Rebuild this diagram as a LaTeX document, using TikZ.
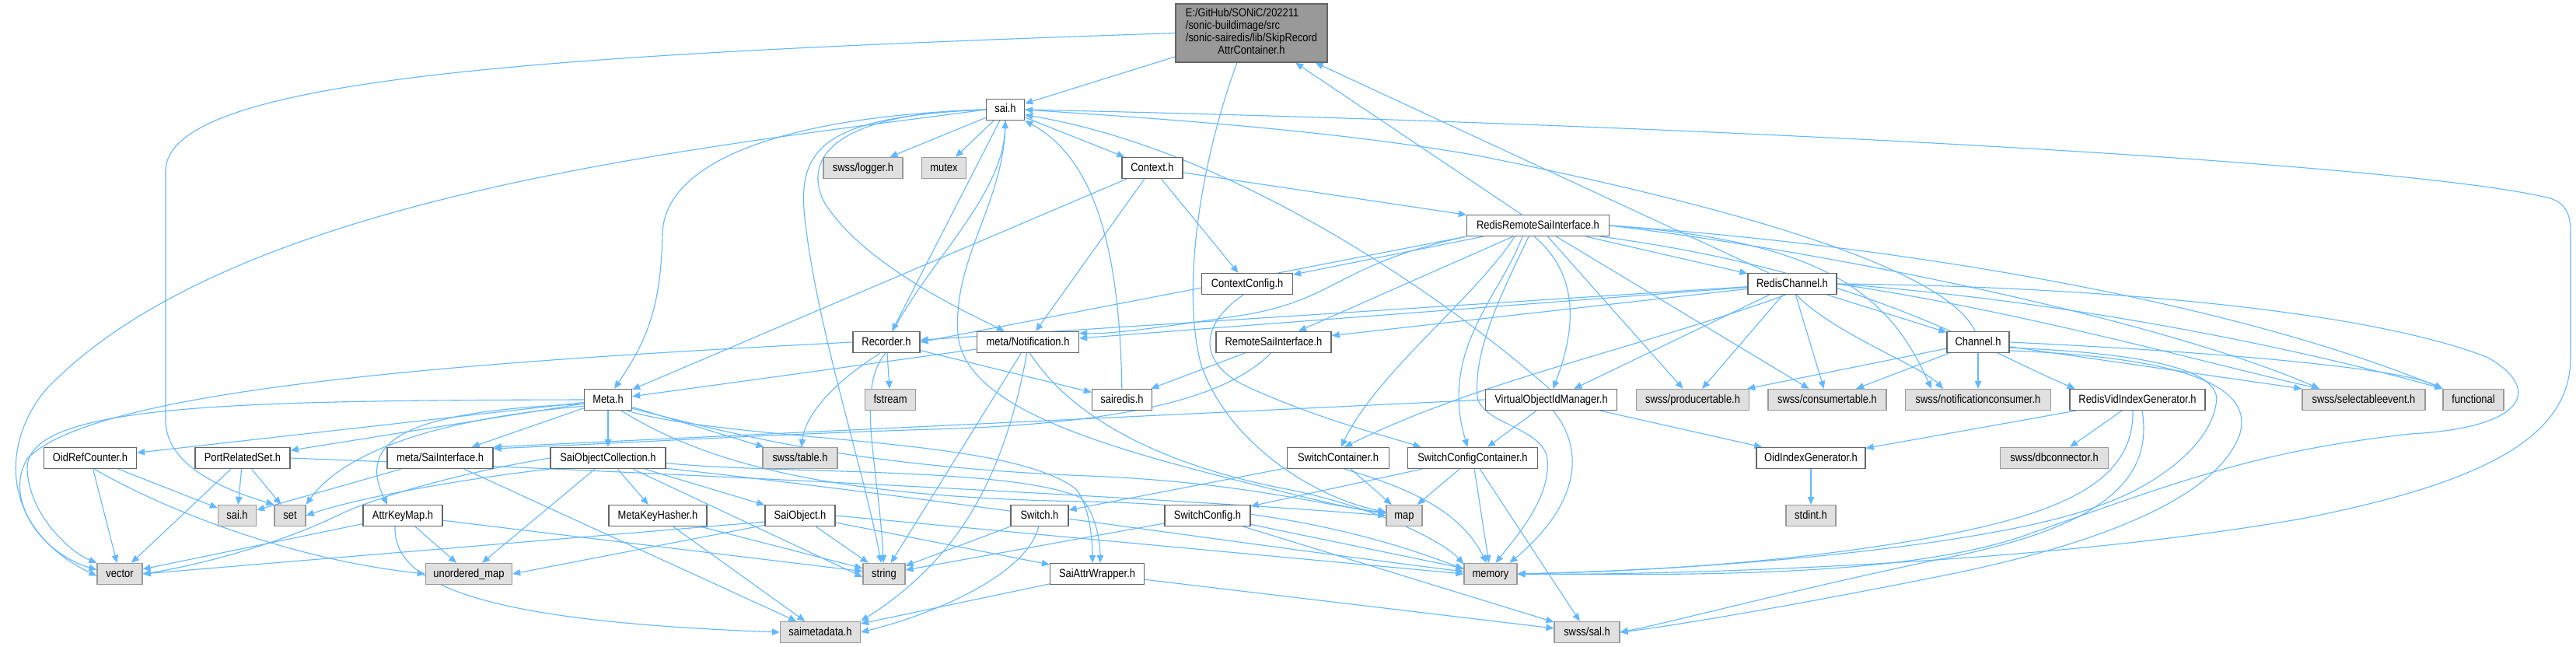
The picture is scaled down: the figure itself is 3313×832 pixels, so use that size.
\documentclass[tikz,border=0pt]{standalone}
\usepackage{fontspec}
\setmainfont{Liberation Sans}[FakeStretch=0.86]
\usetikzlibrary{arrows.meta}
\pgfdeclarelayer{bg}
\pgfsetlayers{bg,main}
\definecolor{edgec}{RGB}{99,184,255}
\definecolor{bordw}{RGB}{102,102,102}
\definecolor{bordg}{RGB}{153,153,153}
\definecolor{fillg}{RGB}{224,224,224}
\definecolor{fillr}{RGB}{153,153,153}
\newcommand\dgfont{\fontsize{15}{16}\selectfont}
\tikzset{
  nw/.style={draw=bordw, fill=white, line width=1.3pt, minimum height=27pt, inner sep=0pt, text height=11pt, text depth=3pt, font=\dgfont},
  ng/.style={draw=bordg, fill=fillg, line width=1.3pt, minimum height=27pt, inner sep=0pt, text height=11pt, text depth=3pt, font=\dgfont},
  nroot/.style={draw=bordw, fill=fillr, line width=1.3pt, minimum height=75pt, minimum width=195pt, inner sep=0pt, font=\dgfont},
  ed/.style={draw=edgec, line width=1.1pt, -{Triangle[length=10pt,width=8.5pt]}}
}
\begin{document}
\begin{tikzpicture}[x=1pt,y=-1pt]
\useasboundingbox (0,0) rectangle (3313,832);
\begin{pgfonlayer}{bg}
\fill[white] (0,0) rectangle (3313,832);
\end{pgfonlayer}
% nodes
\node[nroot] (root) at (1609.5,42.5) {\begin{tabular}{@{}l@{}}E:/GitHub/SONiC/202211\\/sonic-buildimage/src\\/sonic-sairedis/lib/SkipRecord\\\multicolumn{1}{@{}c@{}}{AttrContainer.h}\end{tabular}};
\node[nw,minimum width=49] (sai) at (1293,141) {sai.h};
\node[ng,minimum width=102] (logger) at (1110,216) {swss/logger.h};
\node[ng,minimum width=57] (mutex) at (1214,216) {mutex};
\node[nw,minimum width=78] (context) at (1482,216) {Context.h};
\node[nw,minimum width=117] (contextcfg) at (1604,365) {ContextConfig.h};
\node[nw,minimum width=183] (rrsi) at (1978,290) {RedisRemoteSaiInterface.h};
\node[nw,minimum width=114] (rch) at (2305,365) {RedisChannel.h};
\node[nw,minimum width=86] (recorder) at (1140,440) {Recorder.h};
\node[nw,minimum width=131] (notif) at (1322,440) {meta/Notification.h};
\node[nw,minimum width=148] (rsi) at (1638,440) {RemoteSaiInterface.h};
\node[nw,minimum width=80] (chan) at (2544,440) {Channel.h};
\node[nw,minimum width=61] (meta) at (782,514) {Meta.h};
\node[ng,minimum width=65] (fstream) at (1145,514) {fstream};
\node[nw,minimum width=77] (sairedis) at (1443,514) {sairedis.h};
\node[nw,minimum width=169] (vom) at (1995,514) {VirtualObjectIdManager.h};
\node[ng,minimum width=145] (prod) at (2177,514) {swss/producertable.h};
\node[ng,minimum width=152] (cons) at (2350,514) {swss/consumertable.h};
\node[ng,minimum width=187] (notifcons) at (2544,514) {swss/notificationconsumer.h};
\node[nw,minimum width=174] (rvig) at (2749,514) {RedisVidIndexGenerator.h};
\node[ng,minimum width=158] (selev) at (3040,514) {swss/selectableevent.h};
\node[ng,minimum width=78] (functional) at (3181,514) {functional};
\node[nw,minimum width=119] (oidref) at (116,589) {OidRefCounter.h};
\node[nw,minimum width=122] (portrel) at (312,589) {PortRelatedSet.h};
\node[nw,minimum width=136] (metasaii) at (566,589) {meta/SaiInterface.h};
\node[nw,minimum width=148] (soc) at (782,589) {SaiObjectCollection.h};
\node[ng,minimum width=96] (table) at (1029,589) {swss/table.h};
\node[nw,minimum width=131] (swcont) at (1721,589) {SwitchContainer.h};
\node[nw,minimum width=167] (swcfgcont) at (1894,589) {SwitchConfigContainer.h};
\node[nw,minimum width=140] (oidig) at (2329,589) {OidIndexGenerator.h};
\node[ng,minimum width=139] (dbconn) at (2642,589) {swss/dbconnector.h};
\node[ng,minimum width=49] (saih) at (305,663) {sai.h};
\node[ng,minimum width=40] (set) at (373,663) {set};
\node[nw,minimum width=102] (akm) at (518,663) {AttrKeyMap.h};
\node[nw,minimum width=126] (mkh) at (846,663) {MetaKeyHasher.h};
\node[nw,minimum width=90] (saiobj) at (1029,663) {SaiObject.h};
\node[nw,minimum width=74] (switch) at (1337,663) {Switch.h};
\node[nw,minimum width=110] (swcfg) at (1553,663) {SwitchConfig.h};
\node[ng,minimum width=46] (map) at (1806,663) {map};
\node[ng,minimum width=64] (stdint) at (2329,663) {stdint.h};
\node[ng,minimum width=58] (vector) at (154,738) {vector};
\node[ng,minimum width=111] (umap) at (603,738) {unordered\_map};
\node[ng,minimum width=54] (string) at (1137,738) {string};
\node[nw,minimum width=121] (saw) at (1411,738) {SaiAttrWrapper.h};
\node[ng,minimum width=68] (memory) at (1917,738) {memory};
\node[ng,minimum width=103] (saimeta) at (1055,813) {saimetadata.h};
\node[ng,minimum width=84] (sal) at (2041,813) {swss/sal.h};
% edges
\begin{pgfonlayer}{bg}
% root
\draw[ed] (root) -- (sai);
\draw[ed] (root.west) .. controls (700,70) and (213,100) .. (213,220) -- (213,540) .. controls (213,600) and (290,630) .. (set.north west);
\draw[ed] (root.244) .. controls (1540,220) and (1520,380) .. (1545,470) .. controls (1580,570) and (1690,640) .. (map);
\draw[ed] (rrsi) -- (root);
\draw[ed] (rch) -- (root);
% sai
\draw[ed] (sai) -- (logger);
\draw[ed] (sai) -- (mutex);
\draw[ed] (sai) -- (context);
\draw[ed] (sai.west) .. controls (900,190) and (300,250) .. (60,500) .. controls (0,570) and (0,680) .. (vector.185);
\draw[ed] (sai.west) .. controls (1000,150) and (855,210) .. (852,300) .. controls (850,400) and (830,440) .. (meta.60);
\draw[ed] (sai.west) .. controls (1080,145) and (1030,200) .. (1060,260) .. controls (1110,340) and (1240,400) .. (notif.155);
\draw[ed] (sai.west) .. controls (1060,150) and (1025,190) .. (1035,280) .. controls (1050,420) and (1110,600) .. (string.105);
\draw[ed] (sai) -- (recorder);
\draw[ed] (recorder.60) .. controls (1200,330) and (1290,250) .. (sai.south);
\draw[ed] (sai.south) .. controls (1293,260) and (1225,330) .. (1232,430) .. controls (1240,520) and (1400,570) .. (1600,620) .. controls (1680,640) and (1740,655) .. (map);
\draw[ed] (sai.east) .. controls (2200,160) and (3100,210) .. (3280,255) .. controls (3300,262) and (3306,275) .. (3306,300) -- (3306,460) .. controls (3306,560) and (3200,620) .. (2960,667) .. controls (2600,730) and (2100,740) .. (memory.east);
\draw[ed] (chan.105) .. controls (2500,340) and (2200,260) .. (1900,200) .. controls (1700,165) and (1450,150) .. (sai.east);
\draw[ed] (vom.100) .. controls (1880,400) and (1600,195) .. (sai.-15);
\draw[ed] (sairedis) .. controls (1440,300) and (1400,200) .. (sai.south east);
% context
\draw[ed] (context) -- (meta);
\draw[ed] (context) -- (notif);
\draw[ed] (context) -- (contextcfg);
\draw[ed] (context) -- (rrsi);
\draw[ed] (contextcfg.-110) .. controls (1540,420) and (1540,470) .. (1610,500) .. controls (1700,540) and (1780,560) .. (swcfgcont.168);
% RedisRemoteSaiInterface
\draw[ed] (rrsi) -- (rch);
\draw[ed] (rrsi.south west) -- (recorder.east);
\draw[ed] (rrsi) -- (contextcfg);
\draw[ed] (rrsi.south west) .. controls (1720,340) and (1720,385) .. (1600,405) .. controls (1500,420) and (1430,430) .. (notif.10);
\draw[ed] (rrsi) -- (rsi);
\draw[ed] ([xshift=-30pt]rrsi.south) .. controls (1900,380) and (1770,480) .. (swcont.75);
\draw[ed] ([xshift=-20pt]rrsi.south) .. controls (1930,380) and (1850,450) .. (swcfgcont.115);
\draw[ed] ([xshift=-5pt]rrsi.south) .. controls (2040,360) and (2020,440) .. (vom.80);
\draw[ed] (rrsi) -- (prod);
\draw[ed] (rrsi) -- (cons);
\draw[ed] (rrsi.east) .. controls (2350,310) and (2430,380) .. ([xshift=-60pt]notifcons.north);
\draw[ed] (rrsi.east) .. controls (2400,330) and (2800,420) .. ([xshift=-57pt]selev.north);
\draw[ed] (rrsi.east) .. controls (2500,320) and (2900,400) .. (functional.north west);
\draw[ed] ([xshift=-12pt]rrsi.south) .. controls (1930,380) and (1895,450) .. (1900,510) .. controls (1905,545) and (1985,550) .. (1990,590) .. controls (1995,640) and (1950,690) .. (memory.65);
\draw[ed] (rrsi.-10) .. controls (2400,350) and (2550,450) .. (rvig.170);
% RedisChannel
\draw[ed] (rch) -- (chan);
\draw[ed] (rch) -- (vom);
\draw[ed] (rch) -- (prod);
\draw[ed] (rch) -- (cons);
\draw[ed] (rch.-70) .. controls (2360,430) and (2470,470) .. ([xshift=-45pt]notifcons.north);
\draw[ed] (rch) -- (recorder);
\draw[ed] (rch) -- (notif);
\draw[ed] (rch) -- (rsi);
\draw[ed] (rch.-120) .. controls (2100,450) and (1900,490) .. (swcont.60);
\draw[ed] (rch.east) .. controls (2700,368) and (3050,400) .. (3200,460) .. controls (3270,500) and (3250,550) .. (3100,558) .. controls (2900,580) and (2800,620) .. (2600,690) .. controls (2450,740) and (2200,740) .. (memory.east);
\draw[ed] (rch.east) .. controls (2600,400) and (2850,470) .. ([xshift=-57pt]selev.north);
\draw[ed] (rch.east) .. controls (2700,390) and (3000,460) .. (functional.north west);
% Channel
\draw[ed] (chan) -- (notifcons);
\draw[ed] (chan) -- (prod);
\draw[ed] (chan) -- (cons);
\draw[ed] (chan) -- (selev.north west);
\draw[ed] (chan.east) .. controls (2800,450) and (3080,470) .. (functional.north west);
\draw[ed] (chan.-10) .. controls (2780,455) and (2860,480) .. (2850,520) .. controls (2840,580) and (2760,630) .. (2700,650) .. controls (2600,690) and (2300,730) .. (memory.east);
\draw[ed] (chan.-15) .. controls (2820,460) and (2900,500) .. (2880,560) .. controls (2850,640) and (2700,700) .. (2500,740) .. controls (2300,780) and (2150,805) .. (sal.east);
% RedisVidIndexGenerator
\draw[ed] (rvig) -- (oidig);
\draw[ed] (rvig) -- (dbconn);
\draw[ed] ([xshift=-6pt]rvig.south) .. controls (2745,620) and (2650,660) .. (2490,690) .. controls (2300,725) and (2100,735) .. (memory.east);
\draw[ed] ([xshift=6pt]rvig.south) .. controls (2770,620) and (2700,680) .. (2490,720) .. controls (2300,760) and (2150,800) .. (sal.east);
% VirtualObjectIdManager
\draw[ed] (vom) -- (oidig);
\draw[ed] (vom) -- (swcfgcont);
\draw[ed] (vom.-80) .. controls (2040,580) and (2030,650) .. (memory.30);
\draw[ed] (vom.west) -- (metasaii.north east);
% RemoteSaiInterface
\draw[ed] (rsi) -- (sairedis);
\draw[ed] (rsi.-105) .. controls (1580,510) and (1450,545) .. (1200,552) .. controls (1000,558) and (800,570) .. (metasaii.10);
% Recorder
\draw[ed] (recorder) -- (fstream);
\draw[ed] (recorder) -- (sairedis);
\draw[ed] (recorder.-120) .. controls (1060,500) and (1035,540) .. (table);
\draw[ed] (recorder.-95) .. controls (1100,500) and (1130,600) .. (string);
\draw[ed] (recorder.west) .. controls (600,465) and (120,500) .. (35,590) .. controls (5,640) and (50,710) .. (vector.170);
% Meta
\draw[ed] (meta.west) .. controls (300,515) and (40,520) .. (35,600) .. controls (35,660) and (90,710) .. (vector.north west);
\draw[ed] (meta) -- (oidref);
\draw[ed] (meta) -- (portrel);
\draw[ed] (meta) -- (metasaii);
\draw[ed] (meta) -- (soc);
\draw[ed] (meta.190) .. controls (540,528) and (455,560) .. ([xshift=-20pt]akm.north);
\draw[ed] (meta.195) .. controls (600,535) and (450,570) .. (set.north east);
\draw[ed] (meta) -- (table);
\draw[ed] (meta.-20) .. controls (950,560) and (1100,600) .. (1400,612) .. controls (1600,620) and (1700,650) .. (map.170);
\draw[ed] (meta.-40) .. controls (900,590) and (1050,640) .. (1400,645) .. controls (1650,650) and (1800,700) .. (memory.170);
\draw[ed] (meta.-30) .. controls (950,570) and (1300,560) .. (1385,630) .. controls (1400,650) and (1405,690) .. ([xshift=-6pt]saw.north);
% Notification
\draw[ed] (notif) -- (meta);
\draw[ed] (notif) -- (string);
\draw[ed] (notif.-95) .. controls (1290,620) and (1230,720) .. (saimeta.north east);
\draw[ed] (notif.-80) .. controls (1380,540) and (1500,600) .. (1660,630) .. controls (1780,655) and (1860,700) .. (memory.160);
% SaiObjectCollection
\draw[ed] (soc) -- (mkh);
\draw[ed] (soc) -- (saiobj);
\draw[ed] (soc) -- (umap);
\draw[ed] ([xshift=32pt]soc.south) -- ([yshift=-4pt]string.west);
\draw[ed] (soc.south west) .. controls (600,615) and (460,640) .. (set.east);
\draw[ed] (soc.west) .. controls (640,600) and (520,625) .. (440,660) .. controls (360,700) and (250,728) .. (vector.east);
\draw[ed] (soc.-5) .. controls (1000,610) and (1300,600) .. (1390,640) .. controls (1410,660) and (1415,700) .. ([xshift=4pt]saw.north);
\draw[ed] (soc.-10) .. controls (1200,640) and (1600,700) .. (memory.175);
% SaiObject
\draw[ed] (saiobj) -- (saw);
\draw[ed] (saiobj.190) -- (vector.east);
\draw[ed] (saiobj.195) -- (umap.east);
\draw[ed] (saiobj) -- (string);
\draw[ed] (saiobj.east) -- (memory.west);
% MetaKeyHasher
\draw[ed] (mkh) -- (saimeta);
\draw[ed] (mkh) -- (string);
% AttrKeyMap
\draw[ed] (akm) -- (vector);
\draw[ed] (akm) -- (umap);
\draw[ed] (akm) -- (string);
\draw[ed] ([xshift=-10pt]akm.south) .. controls (505,760) and (650,800) .. (saimeta.west);
% OidRefCounter
\draw[ed] (oidref) -- (saih);
\draw[ed] (oidref) -- (vector);
\draw[ed] (oidref.-70) .. controls (220,660) and (380,720) .. (umap.west);
% PortRelatedSet
\draw[ed] (portrel) -- (saih);
\draw[ed] (portrel) -- (set);
\draw[ed] (portrel) -- (vector);
\draw[ed] (portrel.east) .. controls (800,605) and (1500,640) .. (map.west);
% meta/SaiInterface
\draw[ed] (metasaii) -- (saih);
\draw[ed] (metasaii) -- (saimeta);
% Switch
\draw[ed] (switch) -- (string);
\draw[ed] (switch.-95) .. controls (1320,740) and (1200,790) .. (saimeta.east);
% SwitchContainer
\draw[ed] (swcont) -- (switch);
\draw[ed] (swcont) -- (map);
\draw[ed] (swcont.-60) .. controls (1820,630) and (1880,660) .. (memory.110);
% SwitchConfigContainer
\draw[ed] (swcfgcont) -- (swcfg);
\draw[ed] (swcfgcont) -- (map);
\draw[ed] (swcfgcont) -- (memory);
\draw[ed] (swcfgcont) -- (sal);
% SwitchConfig
\draw[ed] (swcfg) -- (string);
\draw[ed] (swcfg) -- (memory);
\draw[ed] (swcfg) -- (sal);
% SaiAttrWrapper
\draw[ed] (saw) -- (saimeta);
\draw[ed] (saw) -- (sal);
% OidIndexGenerator
\draw[ed] (oidig) -- (stdint);
\end{pgfonlayer}
\end{tikzpicture}
\end{document}
